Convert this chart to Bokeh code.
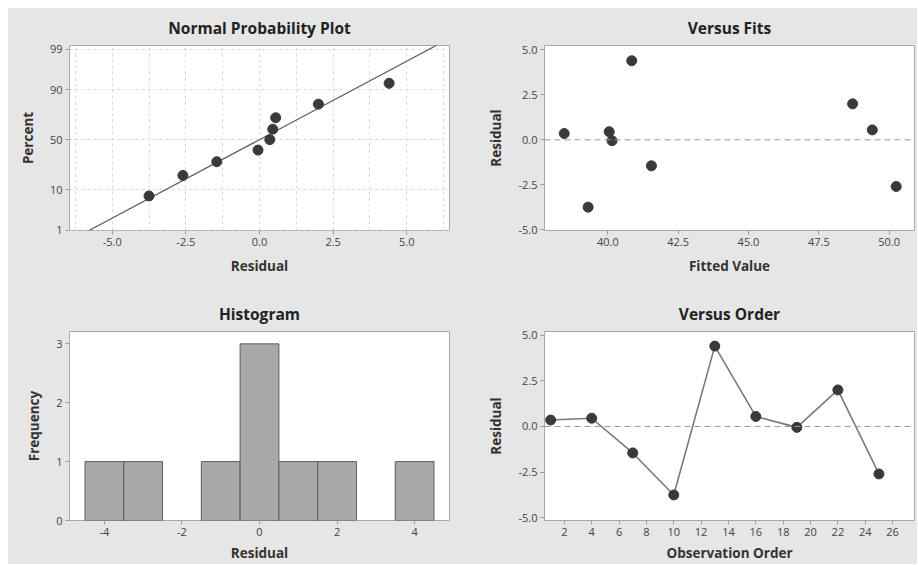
from statistics import NormalDist
from bokeh.plotting import figure
from bokeh.layouts import column, row
from bokeh.models import FixedTicker, PrintfTickFormatter, Span, Range1d
from bokeh.embed import file_html
from bokeh.resources import INLINE

# ---------------- data ----------------
order = [1, 4, 7, 10, 13, 16, 19, 22, 25]
residuals = [0.35, 0.45, -1.45, -3.75, 4.4, 0.55, -0.05, 2.0, -2.6]
fitted = [38.45, 40.05, 41.55, 39.3, 40.85, 49.4, 40.15, 48.7, 50.25]

# normal probability plot: sorted residuals and their plotted percents
npp_resid = [-3.75, -2.6, -1.45, -0.05, 0.35, 0.45, 0.55, 2.0, 4.4]
npp_percent = [7.4, 17.9, 28.5, 39.4, 50.0, 60.6, 71.3, 81.9, 92.6]
fit_mean = 0.0
fit_sd = 2.48
pct_ticks = [1, 10, 50, 90, 99]

# histogram
hist_centers = [-4, -3, -1, 0, 1, 2, 4]
hist_counts = [1, 1, 1, 3, 1, 1, 1]
hist_width = 1.0

# ---------------- style ----------------
BG = "#e6e6e6"
FONT = "Open Sans"
PT = "#3a3a3a"
nd = NormalDist()


def make_fig(title, xlabel, ylabel, left_col, top_row):
    if left_col:
        w, bl, br = 458, 61, 17
    else:
        w, bl, br = 451, 78, 3
    if top_row:
        h, bt, bb = 282, 35, 60
    else:
        h, bt, bb = 274, 41, 42
    p = figure(width=w, height=h, min_border_left=bl, min_border_right=br,
               min_border_top=bt, min_border_bottom=bb,
               output_backend="svg", toolbar_location=None, title=title)
    p.background_fill_color = "white"
    p.border_fill_color = BG
    p.outline_line_color = "#a9a9a9"
    p.outline_line_width = 1
    p.title.align = "center"
    p.title.standoff = 13
    p.title.text_font = FONT
    p.title.text_font_size = "15.5px"
    p.title.text_font_style = "bold"
    p.title.text_color = "#222222"
    for ax, lab in ((p.xaxis, xlabel), (p.yaxis, ylabel)):
        ax.axis_label = lab
        ax.axis_label_text_font = FONT
        ax.axis_label_text_font_size = "13.5px"
        ax.axis_label_text_font_style = "bold"
        ax.axis_label_text_color = "#333333"
        ax.major_label_text_font = FONT
        ax.major_label_text_font_size = "11px"
        ax.major_label_text_color = "#444444"
        ax.axis_line_color = None
        ax.major_tick_line_color = "#9a9a9a"
        ax.major_tick_out = 4
        ax.major_tick_in = 0
        ax.minor_tick_line_color = None
        ax.major_label_standoff = 3
    p.xaxis.axis_label_standoff = 8 if top_row else 5
    p.yaxis.axis_label_standoff = 10
    p.xgrid.grid_line_color = None
    p.ygrid.grid_line_color = None
    return p


# ---------------- Normal probability plot ----------------
p1 = make_fig("Normal Probability Plot", "Residual", "Percent", True, True)
p1.x_range = Range1d(-6.45, 6.45)
p1.y_range = Range1d(nd.inv_cdf(0.0098), nd.inv_cdf(0.9922))
zt = [nd.inv_cdf(t / 100) for t in pct_ticks]
p1.yaxis.ticker = FixedTicker(ticks=zt)
p1.yaxis.major_label_overrides = {z: str(t) for z, t in zip(zt, pct_ticks)}
p1.xaxis.ticker = FixedTicker(ticks=[-5, -2.5, 0, 2.5, 5],
                              minor_ticks=[-6.25, -3.75, -1.25, 1.25, 3.75, 6.25])
p1.xaxis.formatter = PrintfTickFormatter(format="%.1f")
for g in (p1.xgrid, p1.ygrid):
    g.grid_line_color = "#d9d9d9"
    g.grid_line_dash = "3 3"
p1.xgrid.minor_grid_line_color = "#d9d9d9"
p1.xgrid.minor_grid_line_dash = "3 3"
zl = [nd.inv_cdf(0.005), nd.inv_cdf(0.995)]
xl = [fit_mean + fit_sd * z for z in zl]
p1.line(xl, zl, line_color="#5a5a5a", line_width=1.2)
p1.scatter([float(v) for v in npp_resid], [nd.inv_cdf(q / 100) for q in npp_percent],
           size=10, fill_color=PT, line_color=PT)

# ---------------- Versus fits ----------------
p2 = make_fig("Versus Fits", "Fitted Value", "Residual", False, True)
p2.x_range = Range1d(37.75, 50.9)
p2.y_range = Range1d(-5.05, 5.25)
p2.xaxis.ticker = FixedTicker(ticks=[40, 42.5, 45, 47.5, 50])
p2.yaxis.ticker = FixedTicker(ticks=[-5, -2.5, 0, 2.5, 5])
p2.xaxis.formatter = PrintfTickFormatter(format="%.1f")
p2.yaxis.formatter = PrintfTickFormatter(format="%.1f")
p2.add_layout(Span(location=0, dimension="width", line_color="#9a9a9a",
                   line_dash="6 4", line_width=1))
p2.scatter(fitted, residuals, size=10, fill_color=PT, line_color=PT)

# ---------------- Histogram ----------------
p3 = make_fig("Histogram", "Residual", "Frequency", True, False)
p3.x_range = Range1d(-4.9, 4.9)
p3.y_range = Range1d(0, 3.21)
p3.xaxis.ticker = FixedTicker(ticks=[-4, -2, 0, 2, 4])
p3.yaxis.ticker = FixedTicker(ticks=[0, 1, 2, 3])
p3.xaxis.formatter = PrintfTickFormatter(format="%d")
p3.yaxis.formatter = PrintfTickFormatter(format="%d")
p3.quad(left=[c - hist_width / 2 for c in hist_centers],
        right=[c + hist_width / 2 for c in hist_centers],
        bottom=0, top=hist_counts,
        fill_color="#a9a9a9", line_color="#5c5c5c", line_width=1)

# ---------------- Versus order ----------------
p4 = make_fig("Versus Order", "Observation Order", "Residual", False, False)
p4.x_range = Range1d(0.55, 27.6)
p4.y_range = Range1d(-5.15, 5.2)
p4.xaxis.ticker = FixedTicker(ticks=list(range(2, 27, 2)))
p4.yaxis.ticker = FixedTicker(ticks=[-5, -2.5, 0, 2.5, 5])
p4.xaxis.formatter = PrintfTickFormatter(format="%d")
p4.yaxis.formatter = PrintfTickFormatter(format="%.1f")
p4.add_layout(Span(location=0, dimension="width", line_color="#9a9a9a",
                   line_dash="6 4", line_width=1))
p4.line(order, residuals, line_color="#7a7a7a", line_width=1.6)
p4.scatter(order, residuals, size=10, fill_color=PT, line_color=PT)

bgs = {"background-color": BG}
layout = column(row(p1, p2, spacing=0, styles=bgs),
                row(p3, p4, spacing=0, styles=bgs),
                spacing=0, styles=bgs, margin=(8, 0, 0, 8))
open("out.html", "w").write(file_html(layout, INLINE))
